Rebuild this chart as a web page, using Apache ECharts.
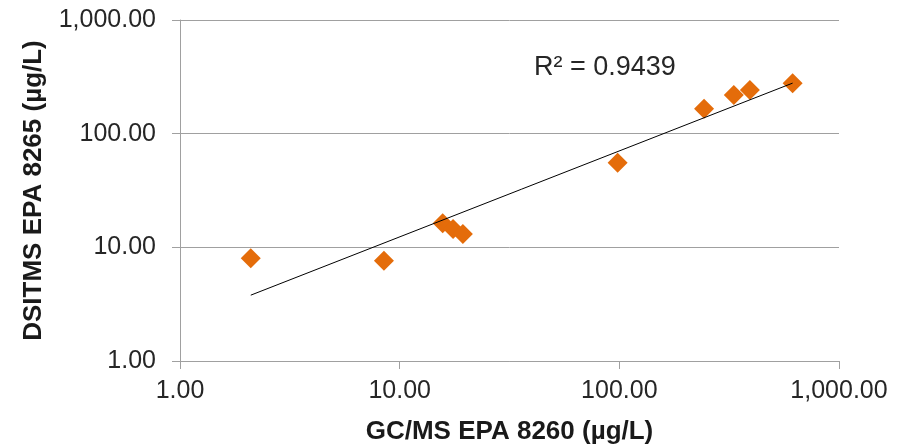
<!DOCTYPE html>
<html>
<head>
<meta charset="utf-8">
<script src="https://cdn.jsdelivr.net/npm/echarts@6/dist/echarts.min.js"></script>
<style>
html,body{margin:0;padding:0;background:#fff;}
#main{width:906px;height:445px;}
</style>
</head>
<body>
<div id="main"></div>
<script>
// GC/MS (x) vs DSITMS (y), ug/L
var gcms   = [2.10, 8.48, 15.7, 17.5, 19.4, 98.2, 243, 332, 393, 615];
var dsitms = [8.01, 7.63, 16.3, 14.5, 13.1, 55.5, 166, 219, 242, 277];
var tickLabels = ['1.00', '10.00', '100.00', '1,000.00'];
var r2Text = 'R\u00b2 = 0.9439';

var FONT = '"Liberation Sans", Arial, sans-serif';

// power trendline (least squares in log space)
function powerFit(xs, ys) {
    var n = xs.length, sx = 0, sy = 0, sxx = 0, sxy = 0;
    for (var i = 0; i < n; i++) {
        var lx = Math.log10(xs[i]), ly = Math.log10(ys[i]);
        sx += lx; sy += ly; sxx += lx * lx; sxy += lx * ly;
    }
    var b = (n * sxy - sx * sy) / (n * sxx - sx * sx);
    var a = (sy - b * sx) / n;
    return function (x) { return Math.pow(10, a + b * Math.log10(x)); };
}
var fit = powerFit(gcms, dsitms);
var xMin = Math.min.apply(null, gcms), xMax = Math.max.apply(null, gcms);
var trend = [[xMin, fit(xMin)], [xMax, fit(xMax)]];

var points = [];
for (var i = 0; i < gcms.length; i++) points.push([gcms[i], dsitms[i]]);

function fmt(v) {
    var idx = Math.round(Math.log10(v));
    return tickLabels[idx] || '';
}

var axisCommon = {
    type: 'log',
    logBase: 10,
    min: 1,
    max: 1000,
    axisLine: {show: true, lineStyle: {color: '#a0a0a0', width: 1}},
    axisTick: {show: true, length: 8, lineStyle: {color: '#a0a0a0'}},
    minorTick: {show: false},
    axisLabel: {color: '#262626', fontSize: 25, fontFamily: FONT, formatter: fmt},
    nameLocation: 'middle',
    nameTextStyle: {color: '#1a1a1a', fontSize: 26, fontWeight: 'bold', fontFamily: FONT}
};

var chart = echarts.init(document.getElementById('main'));
chart.setOption({
    animation: false,
    grid: {left: 180, right: 67, top: 20, bottom: 84, containLabel: false, outerBoundsMode: 'none'},
    xAxis: echarts.util.merge({
        name: 'GC/MS EPA 8260 (\u00b5g/L)',
        nameGap: 58,
        splitLine: {show: false},
        axisLabel: {margin: 18}
    }, axisCommon),
    yAxis: echarts.util.merge({
        name: 'DSITMS EPA 8265 (\u00b5g/L)',
        nameGap: 133,
        splitLine: {show: true, lineStyle: {color: '#a0a0a0', width: 1}},
        axisLabel: {margin: 24}
    }, axisCommon),
    series: [
        {
            type: 'line',
            data: trend,
            symbol: 'none',
            silent: true,
            lineStyle: {color: '#000', width: 1},
            z: 3
        },
        {
            type: 'scatter',
            data: points,
            symbol: 'diamond',
            symbolSize: 20,
            itemStyle: {color: '#e46c0a', opacity: 1},
            z: 2
        }
    ],
    graphic: [{
        type: 'text',
        left: 534,
        top: 54,
        style: {text: r2Text, fill: '#262626', fontSize: 27, fontFamily: FONT}
    }]
});
</script>
</body>
</html>
